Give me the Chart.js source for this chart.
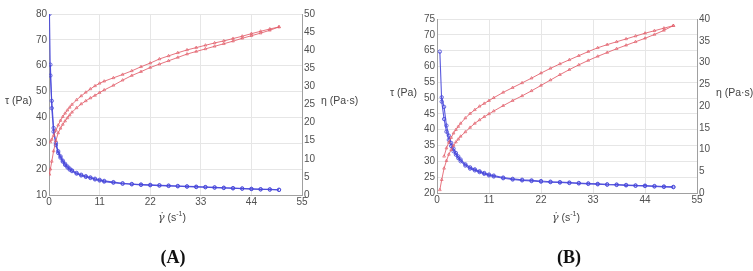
<!DOCTYPE html>
<html>
<head>
<meta charset="utf-8">
<script src="https://cdn.jsdelivr.net/npm/chart.js@4.4.1/dist/chart.umd.min.js"></script>
<style>
  body { margin: 0; background: #fff; width: 753px; height: 271px; position: relative; overflow: hidden; font-family: "Liberation Sans", Arial, sans-serif; }
  canvas { position: absolute; top: 0; }
  .lbl { position: absolute; font-size: 10.5px; color: #444; white-space: nowrap; transform: translateY(-50%); }
  .gam { font-family: "DejaVu Serif", serif; font-style: italic; font-size: 11px; }
  .tag { position: absolute; font-family: "Liberation Serif", "Times New Roman", serif; font-weight: bold; font-size: 18px; color: #111; transform: translate(-50%, -50%); }
  sup { font-size: 7px; }
</style>
</head>
<body>
<canvas id="chartA" width="370" height="215" style="left:0px;width:370px;height:215px"></canvas>
<canvas id="chartB" width="373" height="215" style="left:380px;width:373px;height:215px"></canvas>

<div class="lbl" style="left:5px;top:100px">τ (Pa)</div>
<div class="lbl" style="left:321px;top:100px">η (Pa·s)</div>
<div class="lbl" style="left:158px;top:217px"><span class="gam">γ̇</span> (s<sup>-1</sup>)</div>
<div class="tag" style="left:173px;top:257px">(A)</div>

<div class="lbl" style="left:390px;top:92px">τ (Pa)</div>
<div class="lbl" style="left:716px;top:92px">η (Pa·s)</div>
<div class="lbl" style="left:552px;top:217px"><span class="gam">γ̇</span> (s<sup>-1</sup>)</div>
<div class="tag" style="left:569px;top:257px">(B)</div>

<script>
// shear rate (1/s)
const shearA = [0.1, 0.3, 0.6, 1, 1.5, 2, 2.5, 3, 3.5, 4, 4.5, 5, 6, 7, 8, 9, 10, 11, 12,
  14, 16, 18, 20, 22, 24, 26, 28, 30, 32, 34, 36, 38, 40, 42, 44, 46, 48, 50];
const shearB = [0.6, 1, 1.5, 2, 2.5, 3, 3.5, 4, 4.5, 5, 6, 7, 8, 9, 10, 11, 12,
  14, 16, 18, 20, 22, 24, 26, 28, 30, 32, 34, 36, 38, 40, 42, 44, 46, 48, 50];

// shear stress tau (Pa), ramp up / ramp down
const tauUpA = [18, 20, 23, 27, 31, 34, 35.8, 37.3, 38.6, 39.8, 40.9, 42, 43.7, 45.2, 46.4, 47.5, 48.5, 49.6, 50.6,
  52.4, 54.4, 56.2, 57.7, 59.3, 60.6, 61.9, 63.2, 64.5, 65.5, 66.5, 67.5, 68.5, 69.5, 70.6, 71.6, 72.6, 73.7, 75];
const tauDownA = [null, 30.5, 31.5, 33, 35, 37, 38.8, 40.3, 41.6, 42.8, 43.9, 45, 46.8, 48.3, 49.7, 51, 52.2, 53.2, 54,
  55.3, 56.6, 58, 59.6, 61, 62.6, 63.8, 65, 66.1, 67, 67.9, 68.8, 69.6, 70.5, 71.4, 72.4, 73.3, 74.2, 75];
// viscosity eta (Pa.s)
const etaUpA = [50, 33, 26, 18.5, 13.8, 11.6, 10.3, 9.2, 8.3, 7.6, 7.0, 6.6, 5.9, 5.4, 5.0, 4.7, 4.3, 4.0, 3.7,
  3.4, 3.1, 2.95, 2.8, 2.7, 2.6, 2.5, 2.4, 2.3, 2.2, 2.15, 2.05, 1.95, 1.85, 1.75, 1.65, 1.55, 1.5, 1.4];
const etaDownA = [null, 36, 24, 17.5, 14.4, 12.1, 10.7, 9.5, 8.6, 7.9, 7.3, 6.8, 6.1, 5.6, 5.2, 4.85, 4.5, 4.2, 3.9,
  3.55, 3.25, 3.05, 2.9, 2.8, 2.7, 2.6, 2.5, 2.4, 2.3, 2.2, 2.1, 2.0, 1.9, 1.8, 1.7, 1.6, 1.55, 1.45];

const tauUpB = [21, 24.2, 27.8, 30.2, 32.2, 33.7, 35, 36.1, 37, 37.9, 39.3, 40.7, 42, 43.1, 44.1, 45, 45.9,
  47.6, 49.2, 50.7, 52.3, 54, 55.7, 57.4, 59, 60.5, 61.9, 63.2, 64.4, 65.6, 66.7, 67.8, 68.9, 70.1, 71.4, 72.9];
const tauDownB = [null, null, 31.6, 34.2, 36, 37.5, 38.9, 40, 41, 42, 43.7, 45.1, 46.3, 47.4, 48.3, 49.2, 50.1,
  51.8, 53.3, 54.8, 56.3, 57.9, 59.4, 60.8, 62.1, 63.4, 64.7, 65.9, 66.9, 67.8, 68.7, 69.6, 70.5, 71.3, 72.1, 72.9];
const etaUpB = [32.5, 21, 17, 14.1, 12.2, 10.8, 9.6, 8.8, 8.0, 7.3, 6.3, 5.6, 5.2, 4.8, 4.4, 4.05, 3.8,
  3.4, 3.1, 2.9, 2.75, 2.6, 2.5, 2.4, 2.3, 2.2, 2.1, 2.0, 1.9, 1.85, 1.75, 1.65, 1.6, 1.5, 1.4, 1.35];
const etaDownB = [null, 22, 19.8, 15.5, 13.2, 11.5, 10.2, 9.2, 8.4, 7.7, 6.6, 5.9, 5.45, 5.0, 4.6, 4.25, 4.0,
  3.55, 3.25, 3.05, 2.9, 2.75, 2.6, 2.5, 2.4, 2.3, 2.2, 2.1, 2.0, 1.95, 1.85, 1.75, 1.7, 1.6, 1.5, 1.4];

const RED = 'rgba(226, 92, 104, 0.85)';
const BLUE = 'rgba(72, 72, 218, 0.9)';

function pts(xs, ys) {
  return xs.map((x, i) => ({ x: x, y: ys[i] }));
}

function redSet(xs, ys) {
  return {
    data: pts(xs, ys), yAxisID: 'yL', borderColor: RED, borderWidth: 1,
    pointStyle: 'triangle', pointRadius: 1.6, pointBorderWidth: 0.8,
    pointBorderColor: RED, pointBackgroundColor: 'rgba(255,255,255,0)', spanGaps: false
  };
}

function blueSet(xs, ys) {
  return {
    data: pts(xs, ys), yAxisID: 'yR', borderColor: BLUE, borderWidth: 1.1,
    pointStyle: 'circle', pointRadius: 1.7, pointBorderWidth: 0.9,
    pointBorderColor: BLUE, pointBackgroundColor: 'rgba(255,255,255,0)', spanGaps: false
  };
}

const tickFont = { family: '"Liberation Sans", Arial, sans-serif', size: 10 };

function makeChart(id, xs, tauUp, tauDown, etaUp, etaDown, o) {
  return new Chart(document.getElementById(id), {
    type: 'line',
    data: {
      datasets: [
        redSet(xs, tauUp), redSet(xs, tauDown),
        blueSet(xs, etaUp), blueSet(xs, etaDown)
      ]
    },
    options: {
      responsive: false,
      animation: false,
      layout: { padding: { left: 10, top: o.top, right: 0, bottom: 0 } },
      plugins: { legend: { display: false }, tooltip: { enabled: false } },
      scales: {
        x: {
          type: 'linear', min: 0, max: 55,
          ticks: { stepSize: 11, color: '#505050', font: tickFont, padding: 1, maxRotation: 0 },
          grid: { color: '#e6e6e6', drawTicks: false },
          border: { color: '#a0a0a0' },
          afterFit: s => { s.height = o.xH; }
        },
        yL: {
          position: 'left', min: o.lMin, max: o.lMax,
          ticks: { stepSize: o.lStep, color: '#505050', font: tickFont, padding: 2 },
          grid: { color: '#e6e6e6', drawTicks: false },
          border: { color: '#a0a0a0' },
          afterFit: s => { s.width = o.lW; }
        },
        yR: {
          position: 'right', min: 0, max: o.rMax,
          ticks: { stepSize: 5, color: '#505050', font: tickFont, padding: 2 },
          grid: { drawOnChartArea: false, drawTicks: false },
          border: { color: '#a0a0a0' },
          afterFit: s => { s.width = o.rW; }
        }
      }
    }
  });
}

makeChart('chartA', shearA, tauUpA, tauDownA, etaUpA, etaDownA,
  { top: 14, xH: 20, lW: 39, rW: 68, lMin: 10, lMax: 80, lStep: 10, rMax: 50 });
makeChart('chartB', shearB, tauUpB, tauDownB, etaUpB, etaDownB,
  { top: 19, xH: 22, lW: 47, rW: 56, lMin: 20, lMax: 75, lStep: 5, rMax: 40 });
</script>
</body>
</html>
